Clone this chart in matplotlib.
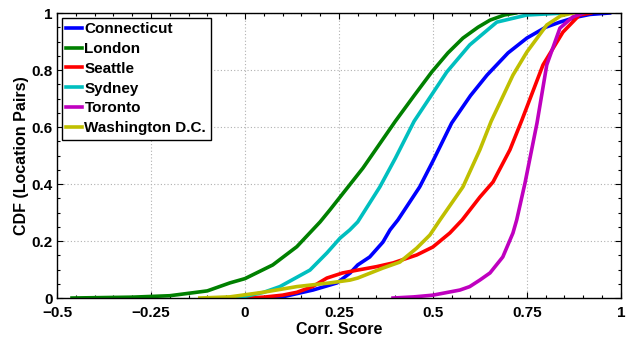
import matplotlib
matplotlib.use("Agg")
import matplotlib.pyplot as plt
from matplotlib.ticker import MultipleLocator, FixedLocator

plt.rcParams['font.family'] = ['Liberation Sans', 'DejaVu Sans']
plt.rcParams['font.weight'] = 'bold'

# Empirical CDF of correlation score per city (score, cumulative fraction)
connecticut_x = [0.06, 0.093, 0.181, 0.245, 0.28, 0.30, 0.332, 0.367, 0.386, 0.407, 0.465, 0.50, 0.55, 0.60, 0.644, 0.70, 0.75, 0.80, 0.838, 0.88, 0.918, 0.97]
connecticut_y = [0.0, 0.002, 0.028, 0.053, 0.088, 0.116, 0.144, 0.196, 0.239, 0.274, 0.39, 0.48, 0.614, 0.71, 0.782, 0.86, 0.912, 0.95, 0.968, 0.985, 0.995, 1.0]

london_x = [-0.46, -0.3, -0.2, -0.1, -0.04, 0.0, 0.074, 0.138, 0.2, 0.226, 0.314, 0.40, 0.45, 0.497, 0.54, 0.58, 0.62, 0.652, 0.69, 0.72]
london_y = [0.0, 0.003, 0.008, 0.025, 0.053, 0.068, 0.116, 0.18, 0.267, 0.309, 0.456, 0.62, 0.71, 0.793, 0.86, 0.912, 0.95, 0.975, 0.993, 1.0]

seattle_x = [0.0, 0.05, 0.1, 0.138, 0.18, 0.218, 0.26, 0.30, 0.35, 0.394, 0.457, 0.50, 0.545, 0.578, 0.625, 0.66, 0.705, 0.737, 0.793, 0.846, 0.89, 0.92]
seattle_y = [0.0, 0.003, 0.01, 0.02, 0.04, 0.07, 0.088, 0.098, 0.11, 0.123, 0.151, 0.179, 0.228, 0.274, 0.354, 0.407, 0.52, 0.625, 0.818, 0.933, 0.993, 1.0]

sydney_x = [-0.02, 0.05, 0.093, 0.173, 0.218, 0.253, 0.279, 0.30, 0.359, 0.40, 0.45, 0.537, 0.598, 0.67, 0.75, 0.85]
sydney_y = [0.0, 0.02, 0.04, 0.098, 0.158, 0.21, 0.239, 0.267, 0.39, 0.49, 0.62, 0.793, 0.888, 0.968, 0.993, 1.0]

toronto_x = [0.394, 0.45, 0.50, 0.572, 0.598, 0.625, 0.652, 0.686, 0.713, 0.723, 0.745, 0.777, 0.803, 0.838, 0.872, 0.9]
toronto_y = [0.0, 0.004, 0.01, 0.028, 0.04, 0.063, 0.088, 0.144, 0.228, 0.274, 0.403, 0.614, 0.818, 0.947, 0.986, 1.0]

washington_x = [-0.12, -0.04, 0.048, 0.138, 0.226, 0.28, 0.30, 0.367, 0.412, 0.457, 0.492, 0.519, 0.58, 0.625, 0.655, 0.713, 0.75, 0.803, 0.84, 0.872]
washington_y = [0.0, 0.004, 0.02, 0.04, 0.053, 0.063, 0.07, 0.105, 0.126, 0.175, 0.221, 0.274, 0.39, 0.52, 0.62, 0.782, 0.863, 0.958, 0.99, 1.0]

series = [
    ("Connecticut", connecticut_x, connecticut_y, (0, 0, 1)),
    ("London", london_x, london_y, (0, 0.5, 0)),
    ("Seattle", seattle_x, seattle_y, (1, 0, 0)),
    ("Sydney", sydney_x, sydney_y, (0, 0.75, 0.75)),
    ("Toronto", toronto_x, toronto_y, (0.75, 0, 0.75)),
    ("Washington D.C.", washington_x, washington_y, (0.75, 0.75, 0)),
]

x_ticks = [-0.5, -0.25, 0, 0.25, 0.5, 0.75, 1]
x_ticklabels = ["\u22120.5", "\u22120.25", "0", "0.25", "0.5", "0.75", "1"]
y_ticks = [0, 0.2, 0.4, 0.6, 0.8, 1]
y_ticklabels = ["0", "0.2", "0.4", "0.6", "0.8", "1"]

fig = plt.figure(figsize=(6.29, 3.37), dpi=100)
ax = fig.add_axes([0.0906, 0.1157, 0.8964, 0.8457])

for name, xs, ys, color in series:
    ax.plot(xs, ys, color=color, linewidth=2.6, label=name)

ax.set_xlim(-0.5, 1)
ax.set_ylim(0, 1)
ax.xaxis.set_major_locator(FixedLocator(x_ticks))
ax.set_xticklabels(x_ticklabels)
ax.yaxis.set_major_locator(FixedLocator(y_ticks))
ax.set_yticklabels(y_ticklabels)
ax.xaxis.set_minor_locator(MultipleLocator(0.05))
ax.yaxis.set_minor_locator(MultipleLocator(0.05))

ax.tick_params(which='both', direction='in', top=True, right=True, width=0.8)
ax.tick_params(which='major', length=4, labelsize=11)
ax.tick_params(which='minor', length=2)
ax.tick_params(axis='x', which='major', pad=6)
ax.tick_params(axis='y', which='major', pad=3)
for lbl in ax.get_xticklabels() + ax.get_yticklabels():
    lbl.set_fontweight('bold')

ax.grid(True, which='major', linestyle=(0, (1, 2)), color='#b0b0b0', linewidth=0.8)
for spine in ax.spines.values():
    spine.set_linewidth(1.0)

ax.set_xlabel("Corr. Score", fontsize=11.5, fontweight='bold', labelpad=1)
ax.set_ylabel("CDF (Location Pairs)", fontsize=11.5, fontweight='bold', labelpad=2)

leg = ax.legend(loc='upper left', fontsize=11, frameon=True, fancybox=False,
                edgecolor='black', framealpha=1, handlelength=1.05,
                handletextpad=0.15, borderpad=0.3, labelspacing=0.38,
                borderaxespad=0.3)
leg.get_frame().set_linewidth(1.0)
for t in leg.get_texts():
    t.set_fontweight('bold')

fig.savefig("out.png", dpi=100)
